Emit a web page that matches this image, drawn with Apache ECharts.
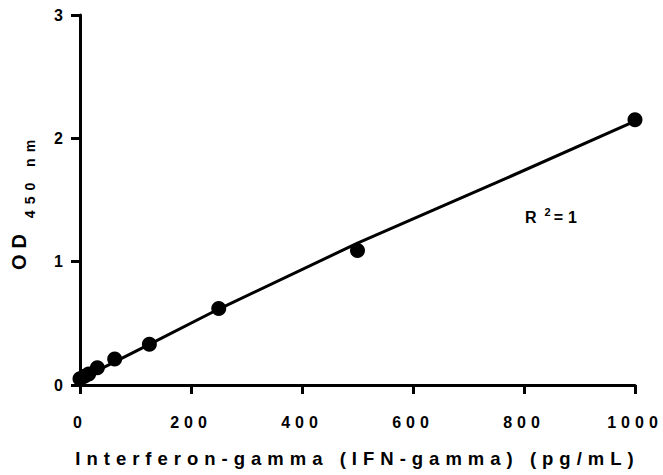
<!DOCTYPE html>
<html>
<head>
<meta charset="utf-8">
<script src="https://cdn.jsdelivr.net/npm/echarts@6/dist/echarts.min.js"></script>
<style>
html, body { margin: 0; padding: 0; background: #fff; }
#chart { width: 663px; height: 475px; }
/* the original plot uses widely spaced letters */
#chart text { letter-spacing: 6px; }
#chart text[style*="16px"] { letter-spacing: 5px; }
#chart text[style*="11px"] { letter-spacing: 0; }
</style>
</head>
<body>
<div id="chart"></div>
<script>
// standard concentrations (pg/mL) and OD 450 nm readings
var conc = [0, 7.8, 15.6, 31.25, 62.5, 125, 250, 500, 1000];
var od = [0.05, 0.07, 0.09, 0.14, 0.21, 0.33, 0.62, 1.09, 2.15];

// fitted standard curve
var fitX = [0, 125, 250, 500, 750, 1000];
var fitY = [0.045, 0.33, 0.616, 1.15, 1.64, 2.14];

// axis ticks
var xTicks = [0, 200, 400, 600, 800, 1000];
var yTicks = [0, 1, 2, 3];

var font = "'Liberation Sans', Arial, sans-serif";

var points = [];
for (var i = 0; i < conc.length; i++) {
    points.push([conc[i], od[i]]);
}
var fit = [];
for (var j = 0; j < fitX.length; j++) {
    fit.push([fitX[j], fitY[j]]);
}

var axisCommon = {
    axisLine: { show: true, onZero: false, lineStyle: { color: '#000', width: 3 } },
    axisTick: { show: true, inside: false, length: 9, lineStyle: { color: '#000', width: 3 } },
    splitLine: { show: false }
};

var option = {
    animation: false,
    backgroundColor: '#fff',
    grid: {
        left: 80,
        right: 28,
        top: 15,
        bottom: 90,
        containLabel: false,
        outerBoundsMode: 'none'
    },
    xAxis: Object.assign({
        type: 'value',
        min: xTicks[0],
        max: xTicks[xTicks.length - 1],
        interval: xTicks[1] - xTicks[0],
        axisLabel: {
            margin: 29,
            color: '#000',
            fontSize: 16,
            fontWeight: 'bold',
            fontFamily: font,
            formatter: function (v) { return String(v); }
        },
        name: 'Interferon-gamma (IFN-gamma) (pg/mL)',
        nameLocation: 'middle',
        nameGap: 64,
        nameTextStyle: {
            color: '#000',
            fontSize: 18.5,
            fontWeight: 'bold',
            fontFamily: font
        }
    }, axisCommon),
    yAxis: Object.assign({
        type: 'value',
        min: yTicks[0],
        max: yTicks[yTicks.length - 1],
        interval: yTicks[1] - yTicks[0],
        axisLabel: {
            margin: 12,
            color: '#000',
            fontSize: 16,
            fontWeight: 'bold',
            fontFamily: font,
            padding: [6, 0, 0, 0],
            formatter: function (v) { return String(v); }
        },
        name: '{a|OD}{b|450 nm}',
        nameLocation: 'middle',
        nameGap: 43,
        nameTextStyle: {
            color: '#000',
            fontFamily: font,
            rich: {
                a: { fontSize: 20, fontWeight: 'bold', color: '#000', fontFamily: font },
                b: { fontSize: 14, fontWeight: 'bold', color: '#000', fontFamily: font, padding: [22, 16, 0, 34] }
            }
        }
    }, axisCommon),
    graphic: [{
        type: 'text',
        x: 525,
        y: 206,
        style: {
            text: '{r|R}{s|2}{e|=1}',
            align: 'left',
            verticalAlign: 'top',
            rich: {
                r: { fontSize: 16, fontWeight: 'bold', fill: '#000', fontFamily: font },
                s: { fontSize: 11, fontWeight: 'bold', fill: '#000', fontFamily: font, padding: [0, 0, 12, 8] },
                e: { fontSize: 16, fontWeight: 'bold', fill: '#000', fontFamily: font, padding: [0, 0, 0, 3] }
            }
        }
    }],
    series: [{
        name: 'fit',
        type: 'line',
        data: fit,
        showSymbol: false,
        symbol: 'none',
        silent: true,
        lineStyle: { color: '#000', width: 3 },
        z: 2
    }, {
        name: 'standards',
        type: 'scatter',
        data: points,
        symbol: 'circle',
        symbolSize: 15,
        itemStyle: { color: '#000', opacity: 1 },
        z: 3
    }]
};

var myChart = echarts.init(document.getElementById('chart'), null, { renderer: 'svg' });
myChart.setOption(option);
</script>
</body>
</html>
